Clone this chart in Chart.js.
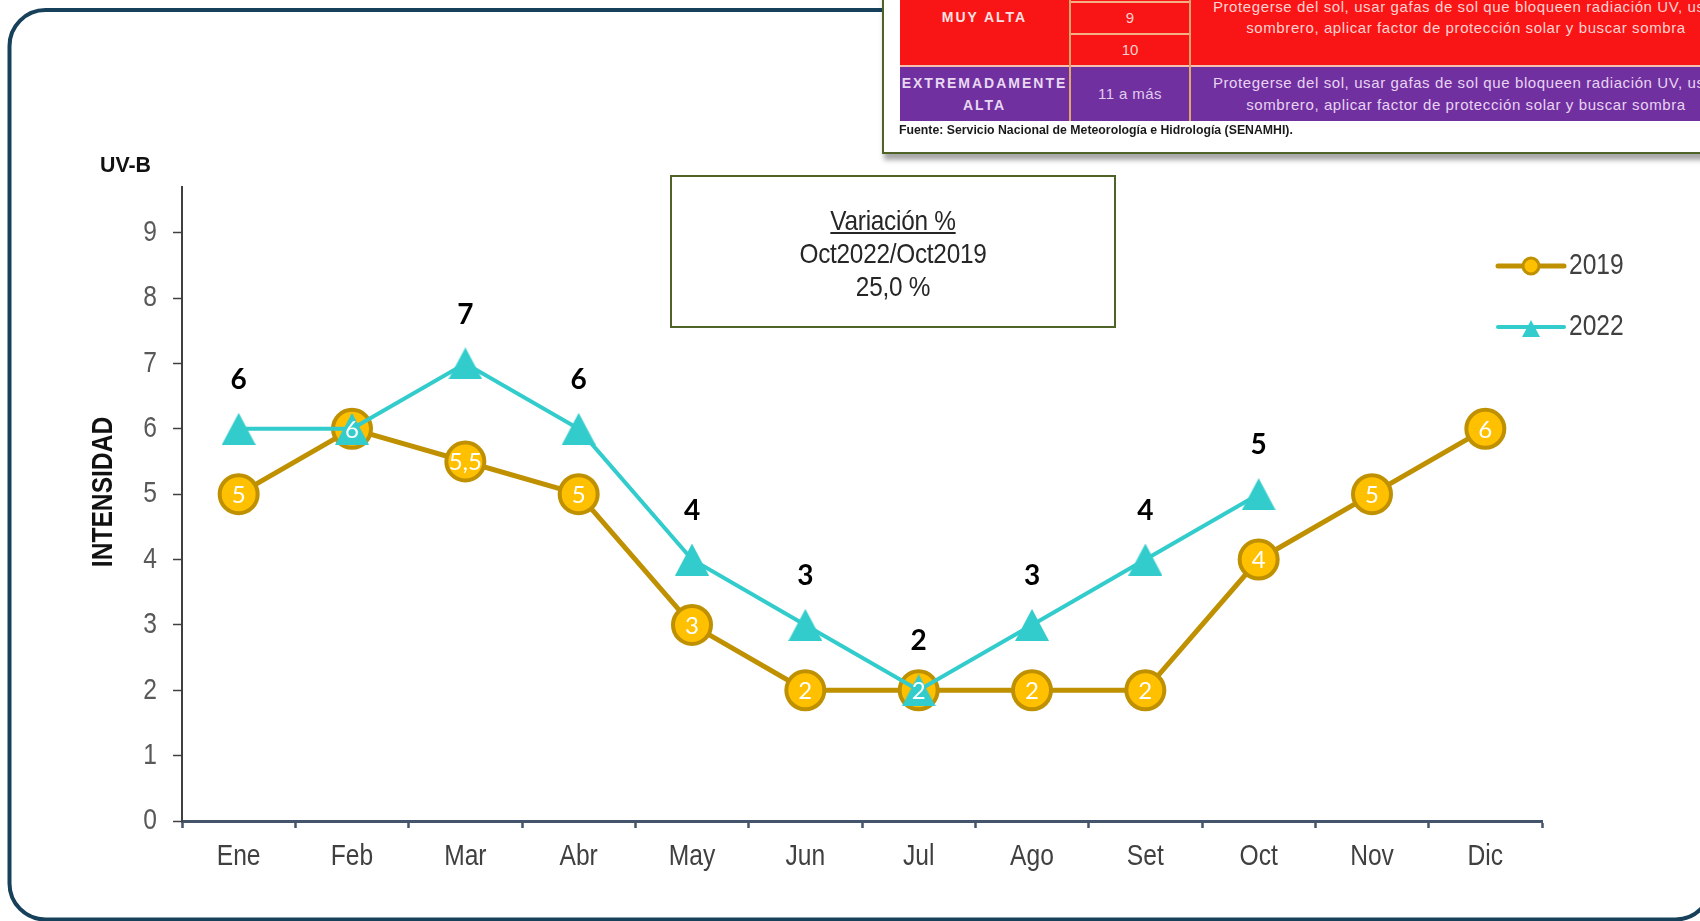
<!DOCTYPE html>
<html><head><meta charset="utf-8">
<script src="https://cdn.jsdelivr.net/npm/chart.js@4"></script>
<style>
html,body{margin:0;padding:0;background:#fff;width:1700px;height:921px;overflow:hidden;position:relative;font-family:"Liberation Sans",Arial,sans-serif;}
.abs{position:absolute;}
#card{left:0;top:0;z-index:0;}
#c{position:absolute;left:0;top:0;z-index:1;}
#note{left:670px;top:175px;width:446px;height:153px;box-sizing:border-box;border:2.5px solid #4F6228;z-index:2;}
#noteText{text-align:center;font-size:28px;color:#262626;line-height:33px;padding-top:27px;transform:scaleX(0.87);transform-origin:50% 50%;letter-spacing:-0.3px;}
#uvb{left:100px;top:154px;font:bold 22px "Liberation Sans",sans-serif;line-height:21px;color:#111;z-index:2;transform:scaleX(0.97);transform-origin:0 50%;}
#frame{left:882px;top:-10px;width:900px;height:164px;box-sizing:border-box;border:2px solid #4F6228;background:#fff;box-shadow:2px 6px 5px rgba(0,0,0,0.35);z-index:3;}
.t{z-index:4;position:absolute;}
.ctr{text-align:center;}
</style></head><body>
<svg id="card" class="abs" width="1700" height="921" viewBox="0 0 1700 921"><rect x="9.5" y="10" width="1702" height="909.5" rx="36" ry="36" fill="none" stroke="#17405A" stroke-width="4"/></svg>
<canvas id="c" width="1700" height="921"></canvas>
<div id="uvb" class="abs">UV-B</div>
<div id="note" class="abs"><div id="noteText"><span style="text-decoration:underline">Variación %</span><br>Oct2022/Oct2019<br>25,0 %</div></div>

<div id="frame" class="abs"></div>
<div class="t" style="left:900px;top:0;width:860px;height:65px;background:#F91515;"></div>
<div class="t" style="left:900px;top:65px;width:860px;height:2px;background:#F5C0B0;"></div>
<div class="t" style="left:900px;top:67px;width:860px;height:54px;background:#7030A0;"></div>
<div class="t" style="left:1069px;top:0;width:2px;height:121px;background:#E3A56E;"></div>
<div class="t" style="left:1189px;top:0;width:2px;height:121px;background:#E3A56E;"></div>
<div class="t" style="left:1071px;top:1px;width:118px;height:2px;background:#F4B183;"></div>
<div class="t" style="left:1071px;top:33px;width:118px;height:2px;background:#F4B183;"></div>
<div class="t ctr" style="left:900px;top:7px;width:169px;line-height:20px;font-weight:bold;font-size:14px;letter-spacing:2px;color:#FBE2E2;">MUY ALTA</div>
<div class="t ctr" style="left:1071px;top:8px;width:118px;line-height:20px;font-size:15px;color:#FBD0D0;">9</div>
<div class="t ctr" style="left:1071px;top:40px;width:118px;line-height:20px;font-size:15px;color:#FBD0D0;">10</div>
<div class="t ctr" style="left:1191px;top:-4px;width:550px;line-height:21px;font-size:15px;letter-spacing:0.6px;color:#FFD2D2;white-space:nowrap;">Protegerse del sol, usar gafas de sol que bloqueen radiación UV, usar<br>sombrero, aplicar factor de protección solar y buscar sombra</div>
<div class="t ctr" style="left:900px;top:72px;width:169px;line-height:22px;font-weight:bold;font-size:14px;letter-spacing:2px;color:#E8D8F2;">EXTREMADAMENTE<br>ALTA</div>
<div class="t ctr" style="left:1071px;top:84px;width:118px;line-height:20px;font-size:15px;letter-spacing:0.4px;color:#E2CCEE;">11 a más</div>
<div class="t ctr" style="left:1191px;top:72px;width:550px;line-height:22px;font-size:15px;letter-spacing:0.6px;color:#E8D4F2;white-space:nowrap;">Protegerse del sol, usar gafas de sol que bloqueen radiación UV, usar<br>sombrero, aplicar factor de protección solar y buscar sombra</div>
<div class="t" style="left:899px;top:122px;line-height:16px;font-weight:bold;font-size:13px;color:#1a1a1a;white-space:nowrap;transform:scaleX(0.945);transform-origin:0 50%;">Fuente: Servicio Nacional de Meteorología e Hidrología (SENAMHI).</div>

<script>
const months = ['Ene','Feb','Mar','Abr','May','Jun','Jul','Ago','Set','Oct','Nov','Dic'];
const uv2019 = [5, 6, 5.5, 5, 3, 2, 2, 2, 2, 4, 5, 6];
const uv2022 = [6, 6, 7, 6, 4, 3, 2, 3, 4, 5, null, null];
const labels2022 = ['6', '', '7', '6', '4', '3', '2', '3', '4', '5', '', ''];
const yTickValues = [0, 1, 2, 3, 4, 5, 6, 7, 8, 9];
const yMax = 9.7;
const seriesNames = ['2022', '2019'];

const GOLD = '#BF9000', GOLD_FILL = '#FFC000', CYAN = '#33CCCC';
const SANS = '"Liberation Sans",Arial,sans-serif';
const NARROW_X = 0.82;

function triangle(w, h, color) {
  const c = document.createElement('canvas');
  c.width = w; c.height = h;
  const x = c.getContext('2d');
  x.fillStyle = color;
  x.beginPath(); x.moveTo(w / 2, 0); x.lineTo(w, h); x.lineTo(0, h); x.closePath(); x.fill();
  return c;
}
const triBig = triangle(34, 32, CYAN);
const triSmall = triangle(18, 17, CYAN);

function narrowText(ctx, text, x, y, sx) {
  ctx.save();
  ctx.translate(x, y);
  ctx.scale(sx, 1);
  ctx.fillText(text, 0, 0);
  ctx.restore();
}

const valueLabels = {
  id: 'valueLabels',
  afterDatasetsDraw(chart) {
    const ctx = chart.ctx;
    const m22 = chart.getDatasetMeta(0), m19 = chart.getDatasetMeta(1);
    ctx.save();
    ctx.textAlign = 'center'; ctx.textBaseline = 'middle';
    ctx.font = 'bold 28px Lato'; ctx.fillStyle = '#000';
    m22.data.forEach((p, i) => { const t = labels2022[i]; if (t && !p.skip) ctx.fillText(t, p.x, p.y - 49); });
    ctx.font = '24px Lato'; ctx.fillStyle = '#fff';
    m19.data.forEach((p, i) => { ctx.fillText(String(uv2019[i]).replace('.', ','), p.x, p.y + 1); });
    ctx.restore();
  }
};

const tickText = {
  id: 'tickText',
  afterDraw(chart) {
    const ctx = chart.ctx;
    const xs = chart.scales.x, ys = chart.scales.y;
    ctx.save();
    ctx.font = '30px ' + SANS;
    ctx.textBaseline = 'middle';
    ctx.textAlign = 'center'; ctx.fillStyle = '#404040';
    xs.ticks.forEach((t, i) => {
      narrowText(ctx, xs.getLabelForValue(t.value), xs.getPixelForTick(i), xs.top + 36, NARROW_X);
    });
    ctx.textAlign = 'right'; ctx.fillStyle = '#595959';
    ys.ticks.forEach((t) => {
      narrowText(ctx, String(t.value), ys.right - 25, ys.getPixelForValue(t.value), NARROW_X);
    });
    ctx.restore();
  }
};

const extras = {
  id: 'extras',
  afterDraw(chart) {
    const ctx = chart.ctx;
    ctx.save();
    ctx.translate(104, 492); ctx.rotate(-Math.PI / 2); ctx.scale(NARROW_X, 1);
    ctx.font = 'bold 30px ' + SANS; ctx.fillStyle = '#111';
    ctx.textAlign = 'center'; ctx.textBaseline = 'middle';
    ctx.fillText('INTENSIDAD', 0, 0);
    ctx.restore();
    ctx.save();
    ctx.lineCap = 'round';
    ctx.strokeStyle = GOLD; ctx.lineWidth = 5;
    ctx.beginPath(); ctx.moveTo(1498, 266); ctx.lineTo(1564, 266); ctx.stroke();
    ctx.beginPath(); ctx.arc(1531, 266, 8, 0, Math.PI * 2);
    ctx.fillStyle = GOLD_FILL; ctx.fill(); ctx.lineWidth = 3; ctx.strokeStyle = GOLD; ctx.stroke();
    ctx.strokeStyle = CYAN; ctx.lineWidth = 4;
    ctx.beginPath(); ctx.moveTo(1498, 327); ctx.lineTo(1564, 327); ctx.stroke();
    ctx.drawImage(triSmall, 1531 - 9, 320);
    ctx.font = '30px ' + SANS; ctx.fillStyle = '#404040';
    ctx.textAlign = 'left'; ctx.textBaseline = 'middle';
    narrowText(ctx, seriesNames[1], 1569, 266, NARROW_X);
    narrowText(ctx, seriesNames[0], 1569, 327, NARROW_X);
    ctx.restore();
  }
};

new Chart(document.getElementById('c'), {
  type: 'line',
  data: {
    labels: months,
    datasets: [
      {
        label: seriesNames[0], data: uv2022, order: 0,
        borderColor: CYAN, borderWidth: 4, backgroundColor: CYAN,
        pointStyle: triBig, pointRadius: 16, pointHoverRadius: 16,
        tension: 0, spanGaps: false
      },
      {
        label: seriesNames[1], data: uv2019, order: 1,
        borderColor: GOLD, borderWidth: 5,
        pointBackgroundColor: GOLD_FILL, pointBorderColor: GOLD, pointBorderWidth: 4,
        pointRadius: 19, pointHoverRadius: 19, pointHoverBorderWidth: 4,
        tension: 0
      }
    ]
  },
  options: {
    responsive: false,
    animation: false,
    events: [],
    layout: { padding: { left: 0, top: 187, right: 158, bottom: 0 } },
    plugins: { legend: { display: false }, tooltip: { enabled: false }, title: { display: false } },
    scales: {
      x: {
        offset: true,
        afterFit(s) { s.height = 100; },
        border: { display: true, color: '#44546A', width: 3 },
        grid: { offset: true, drawOnChartArea: false, drawTicks: true, tickLength: 7, tickColor: '#44546A', tickWidth: 2.5 },
        ticks: { display: false, autoSkip: false, maxRotation: 0 }
      },
      y: {
        min: 0, max: yMax,
        afterFit(s) { s.width = 182; },
        afterBuildTicks(s) { s.ticks = yTickValues.map(v => ({ value: v })); },
        border: { display: true, color: '#404040', width: 2 },
        grid: { drawOnChartArea: false, drawTicks: true, tickLength: 9, tickColor: '#404040', tickWidth: 1.5 },
        ticks: { display: false }
      }
    }
  },
  plugins: [valueLabels, tickText, extras]
});
</script>
</body></html>
